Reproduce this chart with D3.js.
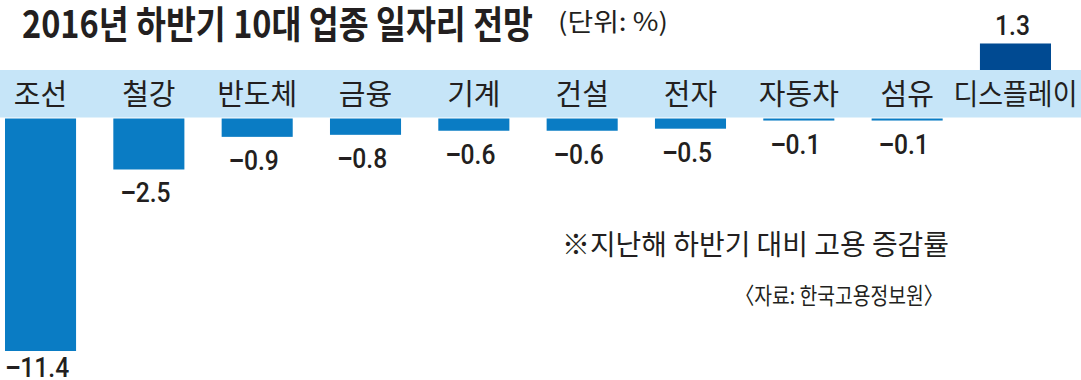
<!DOCTYPE html>
<html>
<head>
<meta charset="utf-8">
<script src="https://cdn.jsdelivr.net/npm/d3@7"></script>
<style>
  html, body { margin: 0; padding: 0; background: #fff; }
  svg { display: block; }
</style>
</head>
<body>
<svg id="chart" width="1081" height="380"></svg>
<script>
const categories = ["조선", "철강", "반도체", "금융", "기계", "건설", "전자", "자동차", "섬유", "디스플레이"];
const values = [-11.4, -2.5, -0.9, -0.8, -0.6, -0.6, -0.5, -0.1, -0.1, 1.3];
const valueLabels = ["−11.4", "−2.5", "−0.9", "−0.8", "−0.6", "−0.6", "−0.5", "−0.1", "−0.1", "1.3"];
const titleText = "2016년 하반기 10대 업종 일자리 전망";
const unitText = "(단위: %)";
const noteText = "※지난해 하반기 대비 고용 증감률";
const sourceText = "〈자료: 한국고용정보원〉";

const W = 1081, H = 380;
const svg = d3.select("#chart");
const KR = "'Noto Sans CJK KR', 'Noto Sans', sans-serif";
const NUM = "Roboto, 'Liberation Sans', Arial, sans-serif";
const ink = "#231f20";

const bandTop = 70, bandBottom = 117.5, barTop = 118.5;

const x = d3.scaleBand().domain(categories).range([5, 1051]).paddingInner(0.344).paddingOuter(0);
// magnitude scale (pixels per unit)
const mag = d3.scaleLinear().domain([0, 11.4]).range([0, 232.5]);

// band
svg.append("rect").attr("x", 0).attr("y", bandTop).attr("width", W).attr("height", bandBottom - bandTop)
  .attr("fill", "#c6e5f8");

// bars
const data = categories.map((c, i) => ({ c, v: values[i], label: valueLabels[i] }));
svg.selectAll("rect.bar").data(data).join("rect")
  .attr("class", "bar")
  .attr("x", d => x(d.c))
  .attr("width", x.bandwidth())
  .attr("y", d => d.v < 0 ? barTop : bandTop - mag(d.v))
  .attr("height", d => mag(Math.abs(d.v)))
  .attr("fill", d => d.v < 0 ? "#0a7cc4" : "#004a92");

// value labels
const vl = svg.selectAll("text.val").data(data).join("text")
  .attr("class", "val")
  .attr("transform", d => {
    const cx = x(d.c) + x.bandwidth() / 2 - 3;
    const y = d.v < 0 ? Math.min(barTop + mag(-d.v) + 33, H - 3) : bandTop - mag(d.v) - 8;
    return `translate(${cx},${y}) scale(0.88,1)`;
  })
  .attr("text-anchor", "middle")
  .attr("font-family", NUM)
  .attr("font-weight", 500)
  .attr("font-size", 28)
  .attr("fill", ink);
vl.each(function (d) {
  const t = d3.select(this);
  if (d.label.startsWith("−")) {
    t.append("tspan").attr("font-family", "'Liberation Sans', Arial, sans-serif").attr("font-weight", 700).text("−");
    t.append("tspan").text(d.label.slice(1));
  } else {
    t.text(d.label);
  }
});

// category labels in band
svg.selectAll("text.cat").data(data).join("text")
  .attr("class", "cat")
  .attr("x", d => x(d.c) + x.bandwidth() / 2)
  .attr("y", 105)
  .attr("text-anchor", "middle")
  .attr("font-family", KR)
  .attr("font-size", 29)
  .attr("fill", ink)
  .text(d => d.c)
  .each(function () {
    const len = this.getComputedTextLength();
    if (len > 124) d3.select(this).attr("textLength", 124).attr("lengthAdjust", "spacingAndGlyphs");
  });

// title
svg.append("text").attr("x", 22).attr("y", 38)
  .attr("font-family", KR).attr("font-weight", 700).attr("font-size", 38)
  .attr("fill", ink)
  .attr("textLength", 511).attr("lengthAdjust", "spacingAndGlyphs")
  .text(titleText);

svg.append("text").attr("x", 558).attr("y", 31)
  .attr("font-family", KR).attr("font-size", 25).attr("fill", ink)
  .attr("textLength", 110).attr("lengthAdjust", "spacingAndGlyphs")
  .text(unitText);

// note & source
svg.append("text").attr("x", 562).attr("y", 255)
  .attr("font-family", KR).attr("font-size", 28).attr("fill", ink)
  .attr("textLength", 387).attr("lengthAdjust", "spacingAndGlyphs")
  .text(noteText);

svg.append("text").attr("x", 735).attr("y", 304)
  .attr("font-family", KR).attr("font-size", 23).attr("fill", ink)
  .attr("textLength", 208).attr("lengthAdjust", "spacingAndGlyphs")
  .text(sourceText);
</script>
</body>
</html>
